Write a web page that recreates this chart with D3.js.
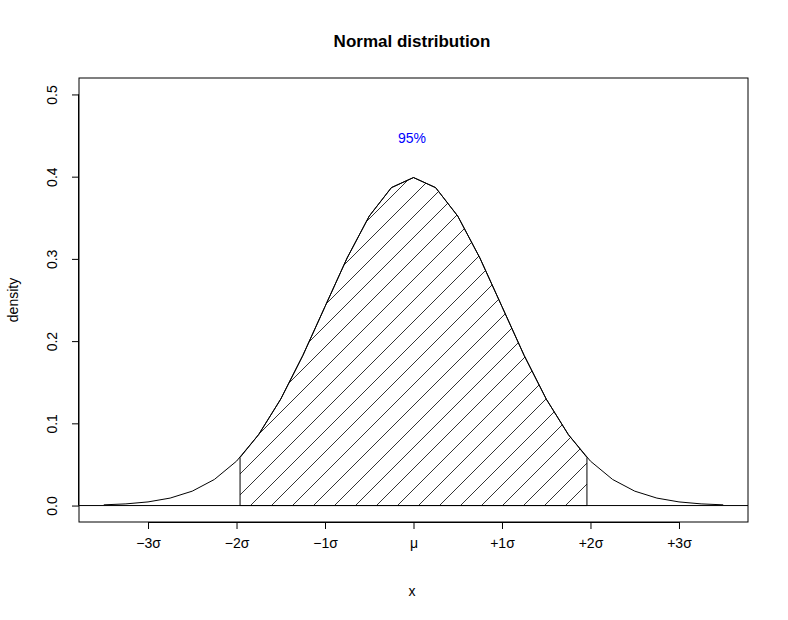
<!DOCTYPE html>
<html><head><meta charset="utf-8">
<script src="https://cdn.jsdelivr.net/npm/d3@7"></script>
<style>body{margin:0;background:#fff}text{font-family:"Liberation Sans",Arial,sans-serif}</style>
</head><body><svg id="c" width="788" height="620"></svg>
<script>
const xs = [-3.5,-3.25,-3,-2.75,-2.5,-2.25,-2,-1.75,-1.5,-1.25,-1,-0.75,-0.5,-0.25,0,0.25,0.5,0.75,1,1.25,1.5,1.75,2,2.25,2.5,2.75,3,3.25,3.5];
const dens = [0.00087,0.00203,0.00443,0.00909,0.01753,0.03174,0.05399,0.08628,0.12952,0.18265,0.24197,0.30114,0.35207,0.38667,0.39894,0.38667,0.35207,0.30114,0.24197,0.18265,0.12952,0.08628,0.05399,0.03174,0.01753,0.00909,0.00443,0.00203,0.00087];
const critX = 1.96, critY = 0.05845;
const xTicks = [-3,-2,-1,0,1,2,3];
const xTickLabels = ["\u22123\u03c3","\u22122\u03c3","\u22121\u03c3","\u03bc","+1\u03c3","+2\u03c3","+3\u03c3"];
const yTicks = [0,0.1,0.2,0.3,0.4,0.5];
const svg = d3.select("#c");
const L=79,R=748,T=78,B=522;
const x = d3.scaleLinear().domain([-3.78,3.78]).range([L,R]);
const y = d3.scaleLinear().domain([-0.02,0.52]).range([B,T]);
const pts = xs.map((v,i)=>[v,dens[i]]);
const shade = [[-critX,0],[-critX,critY],...pts.filter(p=>Math.abs(p[0])<critX),[critX,critY],[critX,0]];
const defs = svg.append("defs");
const pat = defs.append("pattern").attr("id","h").attr("patternUnits","userSpaceOnUse").attr("width",21).attr("height",21);
pat.append("path").attr("d","M0,21L21,0M-5,5L5,-5M16,26L26,16").attr("stroke","#000").attr("stroke-width",0.8);
const line = d3.line().x(d=>x(d[0])).y(d=>y(d[1]));
svg.append("path").attr("d",line(shade)+"Z").attr("fill","url(#h)").attr("stroke","#000").attr("stroke-width",1);
svg.append("path").attr("d",line(pts)).attr("fill","none").attr("stroke","#000").attr("stroke-width",1);
svg.append("line").attr("x1",L).attr("x2",R).attr("y1",y(0)).attr("y2",y(0)).attr("stroke","#000");
svg.append("rect").attr("x",L).attr("y",T).attr("width",R-L).attr("height",B-T).attr("fill","none").attr("stroke","#000");
const xa = svg.append("g").attr("transform",`translate(0,${B})`).call(d3.axisBottom(x).tickValues(xTicks).tickFormat((d,i)=>xTickLabels[i]).tickSizeOuter(0).tickSize(7).tickPadding(9));
xa.select(".domain").attr("d",`M${x(-3)},0.5H${x(3)}`);
const ya = svg.append("g").attr("transform",`translate(${L},0)`).call(d3.axisLeft(y).tickValues(yTicks).tickFormat(d3.format(".1f")).tickSizeOuter(0).tickSize(7));
ya.select(".domain").attr("d",`M-0.5,${y(0)}V${y(0.5)}`);
ya.selectAll(".tick text").attr("transform","rotate(-90)").attr("x",0).attr("y",-22).attr("dy",0).style("text-anchor","middle");
svg.selectAll(".tick text").style("font-size","14px").style("font-family","Liberation Sans, Arial, sans-serif").attr("fill","#000");
svg.append("text").attr("x",412).attr("y",143).attr("text-anchor","middle").attr("fill","#0000ff").style("font-size","14px").text("95%");
svg.append("text").attr("x",412).attr("y",47).attr("text-anchor","middle").attr("font-weight","bold").style("font-size","17px").text("Normal distribution");
svg.append("text").attr("x",412).attr("y",596).attr("text-anchor","middle").style("font-size","14px").text("x");
svg.append("text").attr("transform","translate(18,300) rotate(-90)").attr("text-anchor","middle").style("font-size","14px").text("density");
</script></body></html>
